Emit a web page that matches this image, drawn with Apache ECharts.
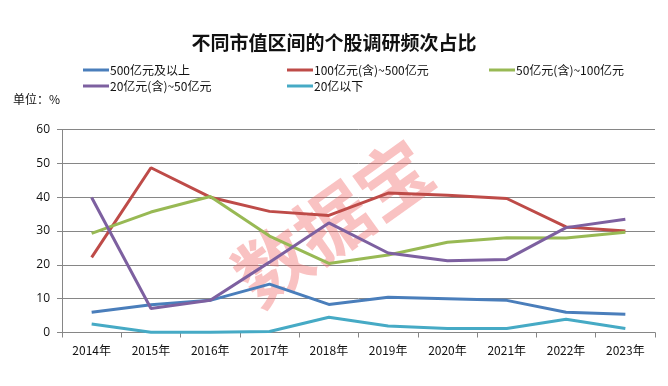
<!DOCTYPE html>
<html><head><meta charset="utf-8">
<script src="https://cdn.jsdelivr.net/npm/echarts@6/dist/echarts.min.js"></script>
<style>html,body{margin:0;padding:0;background:#fff}#c{width:668px;height:386px}</style>
</head><body><div id="c"></div>
<script>
var categories = ['2014年','2015年','2016年','2017年','2018年','2019年','2020年','2021年','2022年','2023年'];
var seriesNames = ['500亿元及以上','100亿元(含)~500亿元','50亿元(含)~100亿元','20亿元(含)~50亿元','20亿以下'];
var s500 = [6.0, 8.2, 9.5, 14.3, 8.3, 10.4, 10.0, 9.5, 6.0, 5.4];
var s100 = [22.2, 48.7, 40.0, 35.8, 34.6, 41.2, 40.6, 39.6, 31.2, 30.0];
var s50 = [29.3, 35.6, 40.2, 28.5, 20.4, 22.9, 26.7, 28.0, 27.9, 29.6];
var s20 = [39.9, 7.1, 9.5, 20.8, 32.4, 23.5, 21.2, 21.6, 31.0, 33.5];
var sLow = [2.5, 0.1, 0.1, 0.3, 4.5, 1.9, 1.2, 1.2, 3.9, 1.2];
var yTicks = [0, 10, 20, 30, 40, 50, 60];
var colors = ['#4A7EBB', '#BE4B48', '#98B954', '#7D60A0', '#46AAC5'];
var allData = [s500, s100, s50, s20, sLow];

var chart = echarts.init(document.getElementById('c'), null, {renderer: 'canvas'});
var series = seriesNames.map(function (n, i) {
  return {
    name: n, type: 'line', data: allData[i], symbol: 'none', smooth: false,
    lineStyle: {width: 3, color: colors[i]}, itemStyle: {color: colors[i]}, z: 3
  };
});
var legendCommon = {
  orient: 'vertical', top: 59, itemWidth: 26, itemHeight: 3, itemGap: 4, icon: 'rect',
  textStyle: {fontSize: 12, color: '#111', fontFamily: 'Noto Sans CJK SC', padding: [0,0,0,-4]}
};
chart.setOption({
  animation: false,
  backgroundColor: '#fff',
  title: {
    text: '不同市值区间的个股调研频次占比', left: 'center', top: 28,
    textStyle: {fontSize: 19, fontWeight: 'bold', color: '#111', fontFamily: 'Noto Sans CJK SC'}
  },
  legend: [
    Object.assign({}, legendCommon, {left: 78, data: [seriesNames[0], seriesNames[3]]}),
    Object.assign({}, legendCommon, {left: 282, data: [seriesNames[1], seriesNames[4]]}),
    Object.assign({}, legendCommon, {left: 484, data: [seriesNames[2]]})
  ],
  graphic: [
    {type: 'text', left: 13, top: 93, style: {text: '单位：%', fontSize: 12, fill: '#111', fontFamily: 'Noto Sans CJK SC'}},
    {type: 'text', x: 333, y: 222, rotation: 0.62, z: 1,
     style: {text: '数据宝', fontSize: 74, fontWeight: 'bold', fill: 'rgba(240,110,110,0.42)', fontFamily: 'Noto Sans CJK SC', align: 'center', verticalAlign: 'middle'}}
  ],
  grid: {left: 62, right: 13, top: 129.5, bottom: 53.5, containLabel: false},
  xAxis: {
    type: 'category', data: categories, boundaryGap: true,
    axisLine: {lineStyle: {color: '#868686', width: 1}},
    axisTick: {show: true, alignWithLabel: false, length: 5, lineStyle: {color: '#868686'}},
    axisLabel: {fontSize: 12, color: '#111', margin: 12, fontFamily: 'Noto Sans CJK SC'}
  },
  yAxis: {
    type: 'value', min: yTicks[0], max: yTicks[yTicks.length - 1], interval: 10,
    axisLine: {show: true, lineStyle: {color: '#868686'}},
    axisTick: {show: true, length: 5, lineStyle: {color: '#868686'}},
    axisLabel: {fontSize: 12, color: '#111', margin: 12, fontFamily: 'Open Sans'},
    splitLine: {show: true, lineStyle: {color: '#868686', width: 1}}
  },
  series: series
});
</script></body></html>
